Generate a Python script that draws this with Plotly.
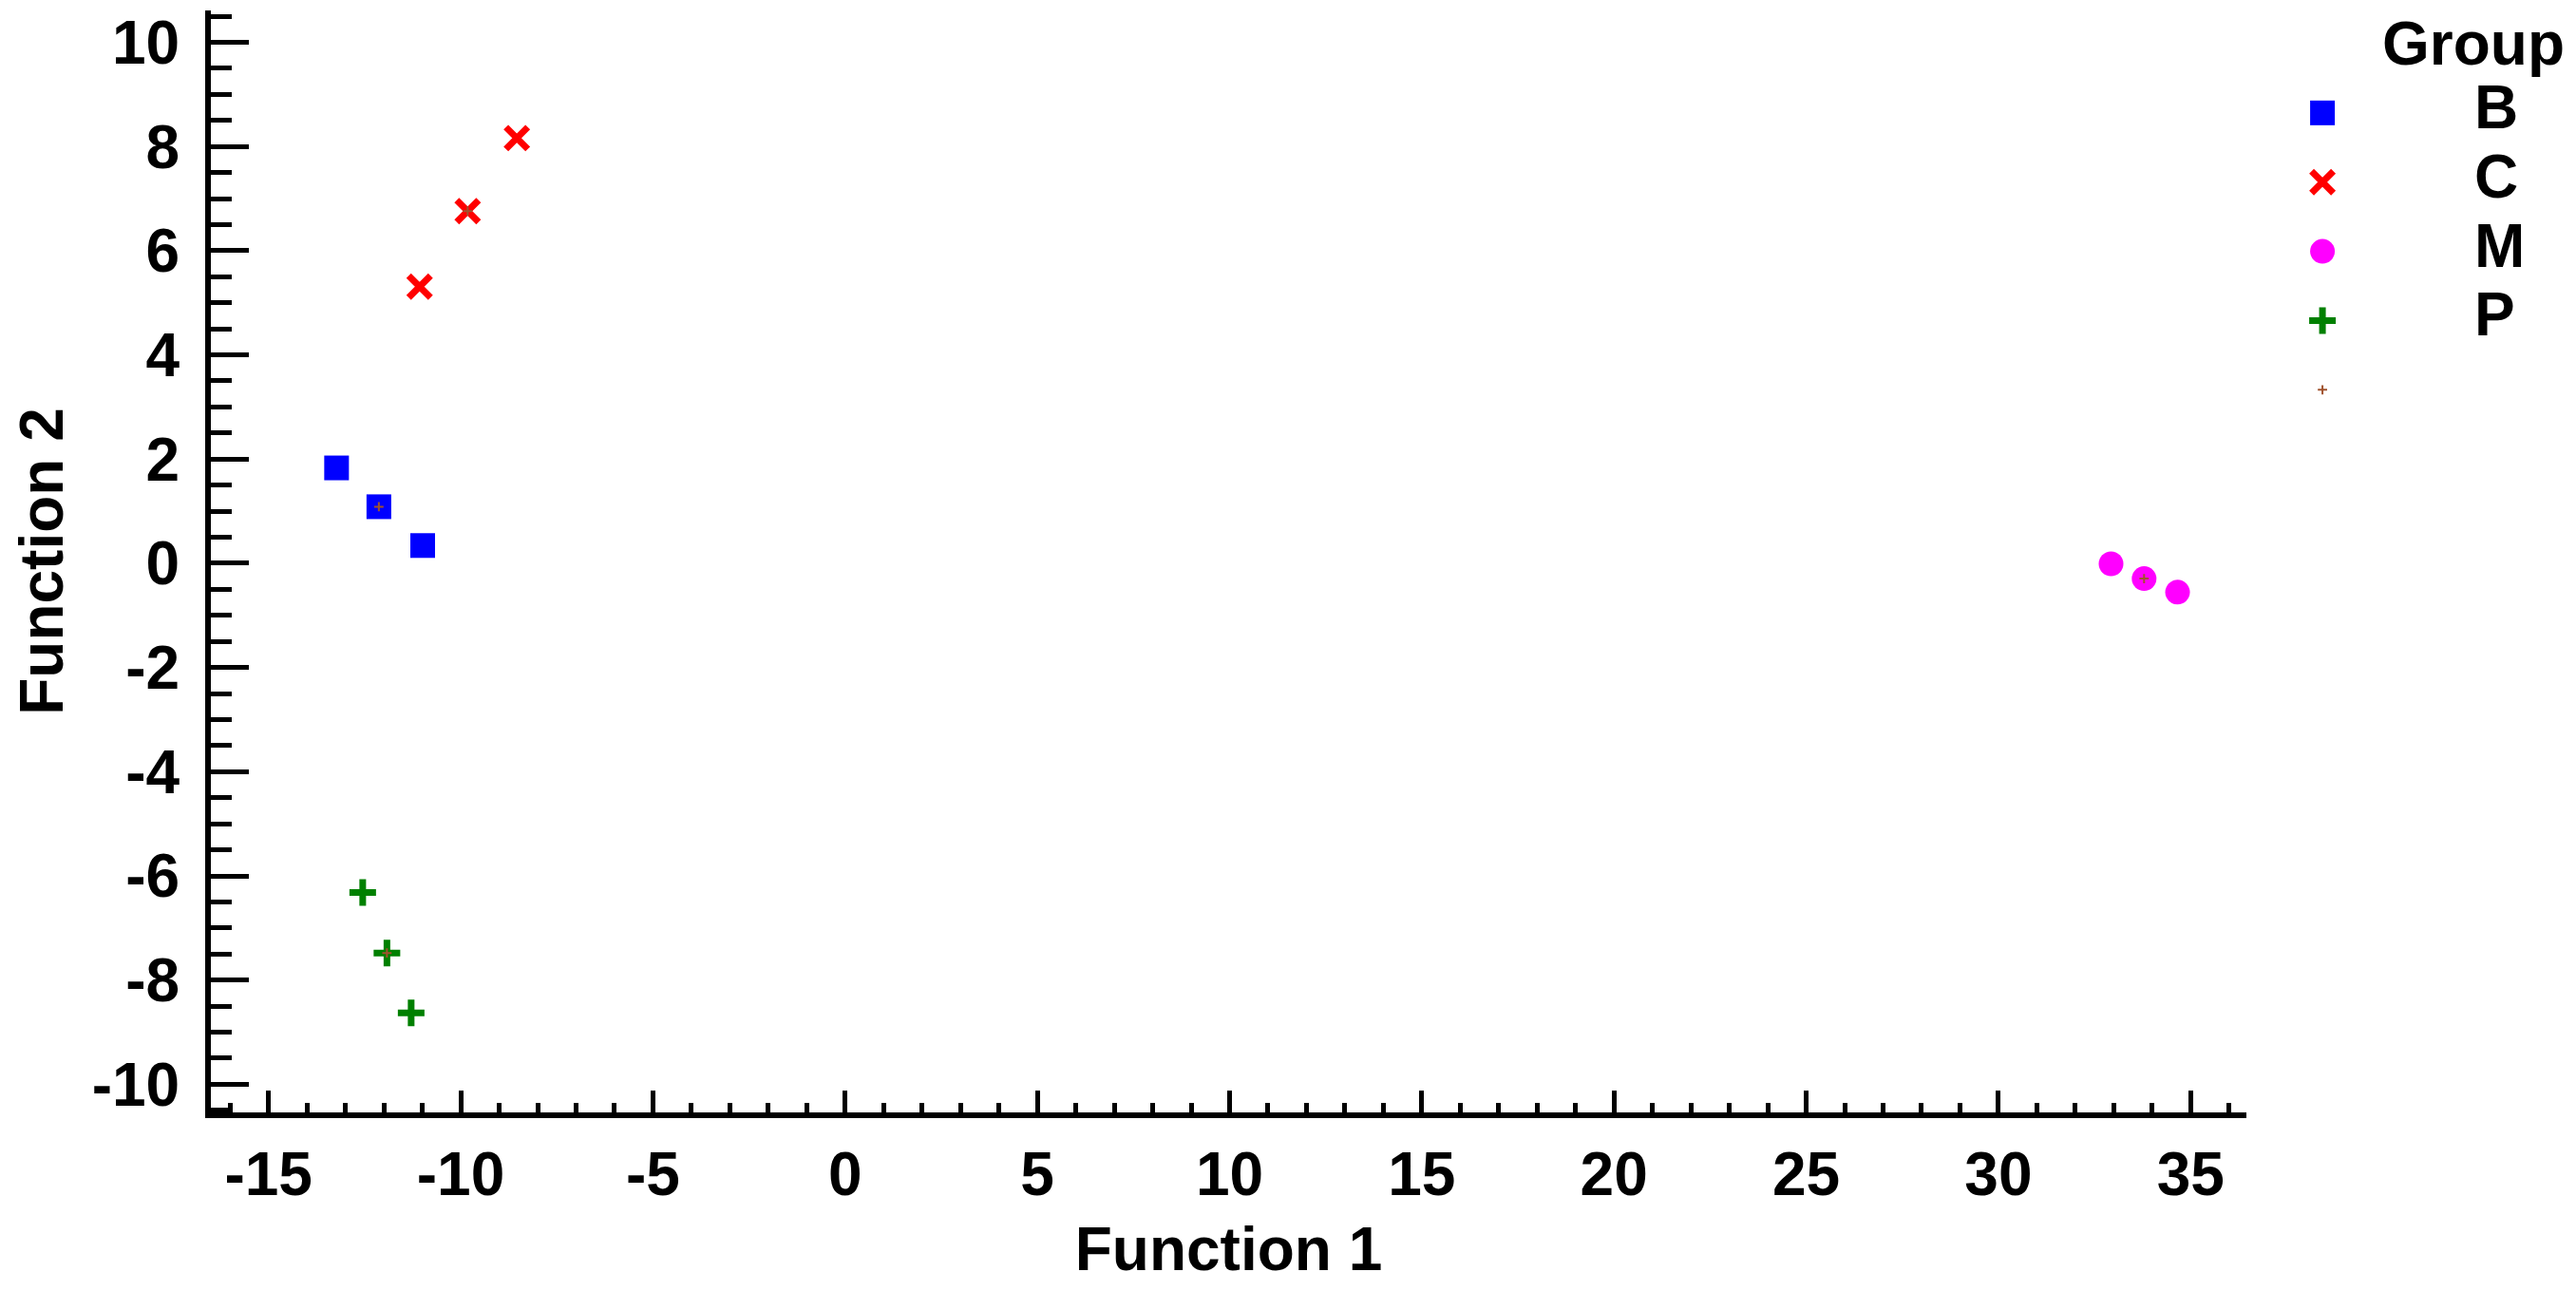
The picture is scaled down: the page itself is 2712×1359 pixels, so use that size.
import plotly.graph_objects as go

# discriminant scores
groups = ["B", "C", "M", "P"]
b_x = [-13.23, -12.13, -10.99]
b_y = [1.83, 1.085, 0.34]
c_x = [-11.07, -9.82, -8.54]
c_y = [5.31, 6.76, 8.16]
m_x = [32.93, 33.79, 34.66]
m_y = [-0.01, -0.295, -0.555]
p_x = [-12.55, -11.92, -11.29]
p_y = [-6.32, -7.48, -8.63]
centroid_x = [-12.13, -9.82, 33.79, -11.92]
centroid_y = [1.085, 6.76, -0.295, -7.48]

x_ticks = [-15, -10, -5, 0, 5, 10, 15, 20, 25, 30, 35]
x_labels = ["-15", "-10", "-5", "0", "5", "10", "15", "20", "25", "30", "35"]
y_ticks = [-10, -8, -6, -4, -2, 0, 2, 4, 6, 8, 10]
y_labels = ["-10", "-8", "-6", "-4", "-2", "0", "2", "4", "6", "8", "10"]

FONT = "Liberation Sans, Arial, sans-serif"
font = dict(family=FONT, size=64, color="black", weight="bold")

styles = {
    "B": dict(symbol="square", size=26, color="#0000ff", line=dict(width=0)),
    "C": dict(symbol="x-thin", size=23, line=dict(width=7, color="#ff0000")),
    "M": dict(symbol="circle", size=26, color="#ff00ff", line=dict(width=0)),
    "P": dict(symbol="cross-thin", size=20, line=dict(width=7, color="#008000")),
}
centroid_style = dict(symbol="cross-thin", size=7, line=dict(width=2, color="#a0522d"))

data = {"B": (b_x, b_y), "C": (c_x, c_y), "M": (m_x, m_y), "P": (p_x, p_y)}

fig = go.Figure()

for g in groups:
    xs, ys = data[g]
    fig.add_trace(go.Scatter(x=xs, y=ys, mode="markers", name=g,
                             marker=styles[g], showlegend=False))

fig.add_trace(go.Scatter(x=centroid_x, y=centroid_y, mode="markers",
                         name="Centroids", marker=centroid_style, showlegend=False))

# legend drawn on its own hidden axes so the symbols keep full size
legend_rows = list(range(len(groups) + 1))
for i, g in enumerate(groups):
    fig.add_trace(go.Scatter(x=[0], y=[legend_rows[i]], mode="markers",
                             marker=styles[g], xaxis="x2", yaxis="y2",
                             showlegend=False, hoverinfo="skip"))
fig.add_trace(go.Scatter(x=[0], y=[legend_rows[-1]], mode="markers",
                         marker=centroid_style, xaxis="x2", yaxis="y2",
                         showlegend=False, hoverinfo="skip"))
fig.add_trace(go.Scatter(x=[0.97] * len(groups), y=legend_rows[:len(groups)],
                         mode="text", text=groups, textposition="middle right",
                         textfont=font, xaxis="x2", yaxis="y2",
                         showlegend=False, hoverinfo="skip"))

fig.add_annotation(text="Group", x=0.37, y=-1, xref="x2", yref="y2",
                   xanchor="left", yanchor="middle", showarrow=False, font=font)

axis_common = dict(
    showline=True, linecolor="black", linewidth=6,
    showgrid=False, zeroline=False,
    ticks="inside", tickcolor="black", tickwidth=5,
    tickfont=font, tickmode="array", ticklabeloverflow="allow",
)

fig.update_layout(
    width=2696, height=1343,
    margin=dict(l=214, r=0, t=3, b=162),
    paper_bgcolor="white", plot_bgcolor="white",
    font=font,
    xaxis=dict(
        **axis_common,
        domain=[0, 0.8634],
        range=[-16.5, 36.45],
        tickvals=x_ticks, ticktext=x_labels, ticklen=23,
        ticklabelstandoff=4,
        minor=dict(dtick=1, tick0=-15, ticks="inside", ticklen=10,
                   tickwidth=5, tickcolor="black", showgrid=False),
        title=dict(text="Function 1", font=font, standoff=34),
    ),
    yaxis=dict(
        **axis_common,
        range=[-10.54, 10.61],
        tickvals=y_ticks, ticktext=y_labels, ticklen=40,
        ticklabelstandoff=14,
        minor=dict(dtick=0.5, tick0=0, ticks="inside", ticklen=22,
                   tickwidth=5, tickcolor="black", showgrid=False),
        title=dict(text="Function 2", font=font, standoff=26),
    ),
    xaxis2=dict(domain=[0.8695, 1.0], range=[-0.394, 1.570], visible=False,
                anchor="y2", fixedrange=True),
    yaxis2=dict(domain=[0, 1], range=[14.44, -1.48], visible=False,
                anchor="x2", fixedrange=True),
)

fig.write_html("out.html")
